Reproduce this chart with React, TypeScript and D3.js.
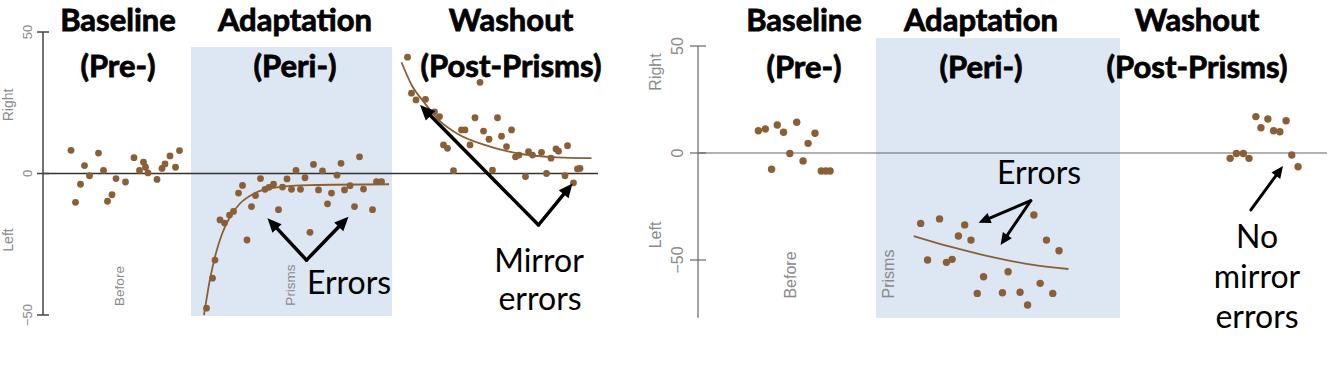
import React from "react";
import * as d3 from "d3";

// ---------- DATA ----------
// Left panel (trial, lateral error in degrees)
const leftBaseline: [number, number][] = [
  [5.6, 8.2], [6.5, -10.2], [7.5, -3.8], [8.3, 2.8], [9.3, -0.8], [11.1, 7.2],
  [12.1, 1.1], [12.9, -9.8], [13.8, -7.5], [14.6, -1.8], [16.5, -3.0], [18.2, 5.6],
  [19.3, 1.1], [20.1, 4.0], [20.5, 2.2], [21.0, 0.2], [22.8, -2.1], [23.8, 1.8],
  [24.4, 3.4], [25.4, 6.2], [26.5, 2.2], [27.3, 8.1],
];
const leftAdaptation: [number, number][] = [
  [32.7, -47.6], [33.9, -37.0], [34.4, -30.6], [35.4, -16.4], [36.3, -17.5], [37.3, -14.7],
  [38.1, -13.4], [39.1, -6.9], [39.9, -4.2], [40.8, -23.5], [41.7, -11.7], [42.5, -7.8],
  [43.5, -1.8], [44.4, -5.6], [45.2, -4.9], [46.1, -3.8], [47.1, -12.8], [47.9, -4.8],
  [48.8, -1.9], [49.7, -5.6], [50.6, 1.1], [51.5, -5.6], [52.4, -1.5], [53.4, -20.8],
  [54.1, 3.2], [55.1, -5.8], [55.9, 0.9], [56.9, -10.7], [57.7, -6.9], [58.8, -0.6],
  [59.6, 3.6], [60.3, -5.8], [61.4, -4.3], [62.3, -11.7], [63.3, 5.9], [64.1, -5.5],
  [65.9, -12.8], [66.7, -2.9], [67.7, -2.9],
];
const leftAdaptationFit: [number, number][] = [
  [32.2, -50], [33.4, -37.3], [34.6, -28.1], [35.8, -21.4], [37.4, -15.3], [39.4, -10.6],
  [42.4, -6.9], [46.4, -5.0], [53.4, -4.1], [69.2, -3.8],
];
const leftWashout: [number, number][] = [
  [72.9, 41.1], [73.7, 28.4], [74.6, 26.0], [76.5, 26.2], [78.3, 21.8], [79.3, 20.1],
  [80.1, 10.1], [80.9, 8.9], [82.1, 1.0], [83.7, 15.4], [84.4, 15.4], [85.4, 10.1],
  [86.4, 19.7], [87.4, 32.2], [88.1, 15.0], [89.2, 12.1], [89.9, 1.2], [90.9, 19.7],
  [91.7, 13.2], [92.7, 9.5], [93.7, 15.4], [94.5, 5.9], [95.2, 6.5], [96.5, -1.1],
  [97.1, 7.7], [97.9, 6.5], [99.7, 7.5], [100.7, 0.0], [101.6, 5.4], [102.6, 8.7],
  [103.1, 7.9], [104.4, -0.8], [104.9, 9.8], [106.1, -3.3], [106.9, 1.6], [107.4, 1.8],
];
const leftWashoutFit: [number, number][] = [
  [71.7, 39.3], [73.8, 31.0], [76.1, 25.4], [79.4, 18.5], [82.7, 14.2], [89.4, 9.5],
  [96.0, 6.8], [102.7, 5.7], [109.7, 5.4],
];

// Right panel
const rightBaseline: [number, number][] = [
  [9.6, 10.4], [10.7, 11.2], [11.7, -7.6], [12.6, 13.1], [13.6, 9.7], [14.6, -0.2],
  [15.7, 14.4], [16.7, -3.7], [17.5, 4.5], [18.6, 9.2], [19.6, -8.4], [20.3, -8.4], [21.0, -8.4],
];
const rightAdaptation: [number, number][] = [
  [35.4, -32.9], [36.5, -50.0], [38.4, -30.8], [39.5, -51.1], [40.4, -49.7], [41.4, -38.8],
  [42.4, -33.6], [43.4, -40.7], [44.4, -65.6], [45.4, -57.8], [48.4, -65.3], [49.3, -55.5],
  [51.2, -65.1], [52.4, -71.0], [53.4, -29.0], [54.4, -60.9], [55.4, -40.7], [56.4, -65.6],
  [57.4, -45.7],
];
const rightAdaptationFit: [number, number][] = [
  [34.3, -38.8], [40.1, -43.8], [45.4, -47.7], [53.3, -52.3], [58.9, -54.2],
];
const rightWashout: [number, number][] = [
  [84.6, -2.5], [85.6, -0.2], [86.7, -0.2], [87.6, -2.5], [88.7, 17.0], [89.5, 11.8],
  [90.6, 15.9], [91.5, 10.4], [92.5, 9.9], [93.5, 15.1], [94.4, -0.9], [95.4, -6.4],
];

const yTicks = [50, 0, -50];
const phaseTitles = [["Baseline", "(Pre-)"], ["Adaptation", "(Peri-)"], ["Washout", "(Post-Prisms)"]];
const phaseLabels = ["Before", "Prisms"];

// ---------- STYLE ----------
const DOT = "#8b5f35";
const SHADE = "#dde6f3";
const AXIS = "#444";
const LABEL = "#8a8a8a";
const TITLE_FONT = "Lato, 'Open Sans', sans-serif";

function Arrow({ x1, y1, x2, y2, w, head }: { x1: number; y1: number; x2: number; y2: number; w: number; head: number }) {
  const ang = Math.atan2(y2 - y1, x2 - x1);
  const hw = head * 0.45;
  const bx = x2 - head * Math.cos(ang);
  const by = y2 - head * Math.sin(ang);
  const p1 = [bx + hw * Math.sin(ang), by - hw * Math.cos(ang)];
  const p2 = [bx - hw * Math.sin(ang), by + hw * Math.cos(ang)];
  const lx = x2 - head * 0.8 * Math.cos(ang);
  const ly = y2 - head * 0.8 * Math.sin(ang);
  return (
    <g>
      <line x1={x1} y1={y1} x2={lx} y2={ly} stroke="#000" strokeWidth={w} strokeLinecap="round" />
      <polygon points={`${x2},${y2} ${p1[0]},${p1[1]} ${p2[0]},${p2[1]}`} fill="#000" />
    </g>
  );
}

export default function App() {
  // Left panel scales
  const xL = d3.scaleLinear().domain([0, 111]).range([43, 598]);
  const yL = d3.scaleLinear().domain([50, -50]).range([32, 315]);
  // Right panel scales
  const xR = d3.scaleLinear().domain([0, 100]).range([698, 1327]);
  const yR = d3.scaleLinear().domain([50, -50]).range([46, 260]);

  const lineL = d3.line<[number, number]>().x((d) => xL(d[0])).y((d) => yL(d[1])).curve(d3.curveMonotoneX);
  const lineR = d3.line<[number, number]>().x((d) => xR(d[0])).y((d) => yR(d[1])).curve(d3.curveMonotoneX);

  const dotsL = (data: [number, number][], key: string) =>
    data.map((d, i) => <circle key={key + i} cx={xL(d[0])} cy={yL(d[1])} r={3.4} fill={DOT} />);
  const dotsR = (data: [number, number][], key: string) =>
    data.map((d, i) => <circle key={key + i} cx={xR(d[0])} cy={yR(d[1])} r={3.7} fill={DOT} />);

  const titleL = [118, 295, 511];
  const titleR = [804, 981, 1197];

  return (
    <svg width={1334} height={380} style={{ position: "absolute", left: 0, top: 0, background: "#fff" }}>
      {/* ---------- LEFT PANEL ---------- */}
      <rect x={xL(29.6)} y={47} width={xL(69.8) - xL(29.6)} height={269} fill={SHADE} />
      <line x1={xL(0)} x2={xL(111)} y1={yL(0)} y2={yL(0)} stroke="#333" strokeWidth={1.6} />
      <line x1={xL(0)} x2={xL(0)} y1={yL(50)} y2={yL(-50)} stroke={AXIS} strokeWidth={1.5} />
      {yTicks.map((t) => (
        <g key={"lt" + t}>
          <line x1={xL(0) - 6} x2={xL(0) + 6} y1={yL(t)} y2={yL(t)} stroke={AXIS} strokeWidth={1.5} />
          <text transform={`translate(${32},${yL(t)}) rotate(-90)`} textAnchor="middle" fontSize={13}
            fontFamily="'Liberation Sans', Arial, sans-serif" fill={LABEL}>{t < 0 ? "−" + Math.abs(t) : t}</text>
        </g>
      ))}
      <text transform={`translate(13,105) rotate(-90)`} textAnchor="middle" fontSize={14}
        fontFamily="'Liberation Sans', Arial, sans-serif" fill={LABEL}>Right</text>
      <text transform={`translate(13,240) rotate(-90)`} textAnchor="middle" fontSize={14}
        fontFamily="'Liberation Sans', Arial, sans-serif" fill={LABEL}>Left</text>
      <text transform={`translate(124,286) rotate(-90)`} textAnchor="middle" fontSize={13.5}
        fontFamily="'Liberation Sans', Arial, sans-serif" fill={LABEL}>{phaseLabels[0]}</text>
      <text transform={`translate(295,285) rotate(-90)`} textAnchor="middle" fontSize={13.5}
        fontFamily="'Liberation Sans', Arial, sans-serif" fill={LABEL}>{phaseLabels[1]}</text>

      <path d={lineL(leftAdaptationFit) || ""} fill="none" stroke={DOT} strokeWidth={1.8} />
      <path d={lineL(leftWashoutFit) || ""} fill="none" stroke={DOT} strokeWidth={1.8} />
      {dotsL(leftBaseline, "lb")}
      {dotsL(leftAdaptation, "la")}
      {dotsL(leftWashout, "lw")}

      {phaseTitles.map((t, i) => (
        <g key={"tl" + i} fontFamily={TITLE_FONT} fontWeight="bold" fontSize={31} textAnchor="middle"
          fill="#000" stroke="#000" strokeWidth={0.8}>
          <text x={titleL[i]} y={31}>{t[0]}</text>
          <text x={titleL[i]} y={77}>{t[1]}</text>
        </g>
      ))}

      {/* left annotations */}
      <Arrow x1={xL(52.7)} y1={yL(-30.6)} x2={xL(44.9)} y2={yL(-15.8)} w={3.5} head={14} />
      <Arrow x1={xL(52.7)} y1={yL(-30.6)} x2={xL(61.1)} y2={yL(-15.3)} w={3.5} head={14} />
      <Arrow x1={xL(99.1)} y1={yL(-18.2)} x2={xL(75.4)} y2={yL(24.2)} w={3.5} head={15} />
      <Arrow x1={xL(99.1)} y1={yL(-18.2)} x2={xL(105.9)} y2={yL(-3.5)} w={3.5} head={14} />
      <g fontFamily={TITLE_FONT} fontSize={32} textAnchor="middle" fill="#000">
        <text x={349} y={294}>Errors</text>
        <text x={539} y={272}>Mirror</text>
        <text x={540} y={310}>errors</text>
      </g>

      {/* ---------- RIGHT PANEL ---------- */}
      <rect x={xR(28.3)} y={38} width={xR(67.1) - xR(28.3)} height={280} fill={SHADE} />
      <line x1={xR(0)} x2={xR(100)} y1={yR(0)} y2={yR(0)} stroke="#666" strokeWidth={1.2} />
      <line x1={xR(0)} x2={xR(0)} y1={yR(50)} y2={yR(-77)} stroke="#666" strokeWidth={1.2} />
      {yTicks.map((t) => (
        <g key={"rt" + t}>
          <line x1={xR(0) - 8} x2={xR(0) + 8} y1={yR(t)} y2={yR(t)} stroke="#666" strokeWidth={1.2} />
          <text transform={`translate(${683},${yR(t)}) rotate(-90)`} textAnchor="middle" fontSize={16}
            fontFamily="'Liberation Sans', Arial, sans-serif" fill={LABEL}>{t < 0 ? "−" + Math.abs(t) : t}</text>
        </g>
      ))}
      <text transform={`translate(661,72) rotate(-90)`} textAnchor="middle" fontSize={16}
        fontFamily="'Liberation Sans', Arial, sans-serif" fill={LABEL}>Right</text>
      <text transform={`translate(661,235) rotate(-90)`} textAnchor="middle" fontSize={16}
        fontFamily="'Liberation Sans', Arial, sans-serif" fill={LABEL}>Left</text>
      <text transform={`translate(796,275) rotate(-90)`} textAnchor="middle" fontSize={16}
        fontFamily="'Liberation Sans', Arial, sans-serif" fill={LABEL}>{phaseLabels[0]}</text>
      <text transform={`translate(894,274) rotate(-90)`} textAnchor="middle" fontSize={16}
        fontFamily="'Liberation Sans', Arial, sans-serif" fill={LABEL}>{phaseLabels[1]}</text>

      <path d={lineR(rightAdaptationFit) || ""} fill="none" stroke={DOT} strokeWidth={1.8} />
      {dotsR(rightBaseline, "rb")}
      {dotsR(rightAdaptation, "ra")}
      {dotsR(rightWashout, "rw")}

      {phaseTitles.map((t, i) => (
        <g key={"tr" + i} fontFamily={TITLE_FONT} fontWeight="bold" fontSize={31} textAnchor="middle"
          fill="#000" stroke="#000" strokeWidth={0.8}>
          <text x={titleR[i]} y={31}>{t[0]}</text>
          <text x={titleR[i]} y={78}>{t[1]}</text>
        </g>
      ))}

      <Arrow x1={xR(52.9)} y1={yR(-22.3)} x2={xR(44.6)} y2={yR(-32.6)} w={3} head={12} />
      <Arrow x1={xR(52.9)} y1={yR(-22.3)} x2={xR(48.1)} y2={yR(-43.0)} w={3} head={12} />
      <Arrow x1={xR(87.9)} y1={yR(-26.6)} x2={xR(93.0)} y2={yR(-6.1)} w={3} head={12} />
      <g fontFamily={TITLE_FONT} fontSize={32} textAnchor="middle" fill="#000">
        <text x={1039} y={184}>Errors</text>
        <text x={1257} y={248}>No</text>
        <text x={1257} y={288}>mirror</text>
        <text x={1257} y={328}>errors</text>
      </g>
    </svg>
  );
}
